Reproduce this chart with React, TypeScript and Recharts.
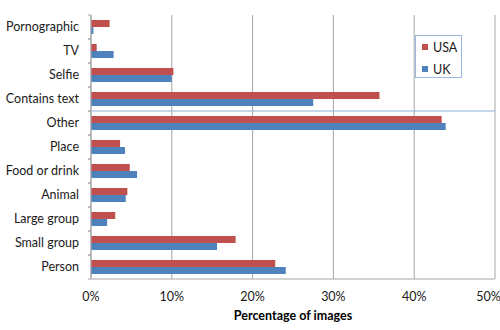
import React from "react";
import {
  BarChart,
  Bar,
  XAxis,
  YAxis,
  CartesianGrid,
  ReferenceLine,
} from "recharts";

const categories = [
  "Pornographic",
  "TV",
  "Selfie",
  "Contains text",
  "Other",
  "Place",
  "Food or drink",
  "Animal",
  "Large group",
  "Small group",
  "Person",
];
const usa = [2.3, 0.7, 10.2, 35.7, 43.4, 3.6, 4.8, 4.5, 3.0, 17.9, 22.8];
const uk = [0.3, 2.8, 10.0, 27.5, 43.9, 4.2, 5.7, 4.3, 2.0, 15.6, 24.1];
const xTicks = [0, 10, 20, 30, 40, 50];
const seriesNames = ["USA", "UK"];

const data = categories.map((name, i) => ({ name, USA: usa[i], UK: uk[i] }));

const FONT = "Lato, 'Open Sans', sans-serif";
const FS = 12.5;
const AXIS = "#a6a6a6";
const RED = "#c0504d";
const BLUE = "#4f81bd";
const COLORS = [RED, BLUE];
const BAND = 24;

// excel style: tick marks sit between the categories
function CategoryTick({ x, y, payload }: any) {
  return (
    <g>
      <line x1={x - 3} x2={x} y1={y - BAND / 2} y2={y - BAND / 2} stroke={AXIS} />
      <line x1={x - 3} x2={x} y1={y + BAND / 2} y2={y + BAND / 2} stroke={AXIS} />
      <text
        x={x - 12}
        y={y}
        dy="0.35em"
        textAnchor="end"
        fontSize={FS}
        fontFamily={FONT}
        fill="#1a1a1a"
      >
        {payload.value}
      </text>
    </g>
  );
}

function LegendBox() {
  return (
    <div
      style={{
        position: "absolute",
        left: 415,
        top: 35,
        border: "1px solid #9ab8de",
        width: 45,
        height: 41,
        background: "#fff",
        fontFamily: FONT,
        fontSize: FS,
        color: "#1a1a1a",
      }}
    >
      {seriesNames.map((label, i) => (
        <div
          key={label}
          style={{
            display: "flex",
            alignItems: "center",
            height: 16,
            marginTop: i === 0 ? 3 : 6,
            paddingLeft: 6,
          }}
        >
          <span
            style={{
              width: 6,
              height: 6,
              background: COLORS[i],
              display: "inline-block",
              marginRight: 5,
            }}
          />
          {label}
        </div>
      ))}
    </div>
  );
}

export default function App() {
  return (
    <div style={{ position: "absolute", left: 0, top: 0, background: "#fff" }}>
      <BarChart
        width={500}
        height={330}
        data={data}
        layout="vertical"
        margin={{ top: 15, right: 5, left: 0, bottom: 0 }}
        barSize={7}
        barGap={0}
      >
        <CartesianGrid horizontal={false} stroke={AXIS} />
        <XAxis
          type="number"
          domain={[0, 50]}
          ticks={xTicks}
          tickFormatter={(v) => `${v}%`}
          axisLine={{ stroke: AXIS }}
          tickLine={false}
          tickMargin={7}
          height={51}
          tick={{ fontSize: FS, fontFamily: FONT, fill: "#1a1a1a" }}
          label={{
            value: "Percentage of images",
            position: "insideBottom",
            offset: 10,
            style: { fontSize: FS, fontFamily: FONT, fontWeight: 700, fill: "#000" },
          }}
        />
        <YAxis
          type="category"
          dataKey="name"
          width={91}
          axisLine={{ stroke: AXIS }}
          tickLine={false}
          tickSize={0}
          tickMargin={0}
          interval={0}
          tick={<CategoryTick />}
        />
        <ReferenceLine
          y="Other"
          position="start"
          segment={[
            { x: 0.7, y: "Other" },
            { x: 49.3, y: "Other" },
          ]}
          stroke="#8fb0d8"
          strokeWidth={1}
        />
        <Bar dataKey="USA" fill={RED} isAnimationActive={false} />
        <Bar dataKey="UK" fill={BLUE} isAnimationActive={false} />
      </BarChart>
      <LegendBox />
    </div>
  );
}
